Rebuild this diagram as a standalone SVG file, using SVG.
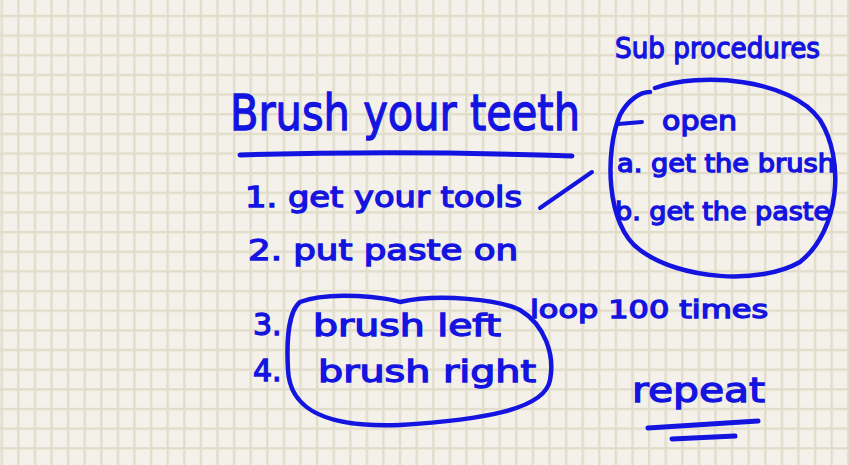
<svg xmlns="http://www.w3.org/2000/svg" width="849" height="465" viewBox="0 0 849 465">
<defs>
<pattern id="grid" patternUnits="userSpaceOnUse" x="0.5" y="14.8" width="16.6" height="19.65">
<rect x="0" y="0" width="16.6" height="19.65" fill="#f4f1ea"/>
<rect x="0" y="0" width="2.4" height="19.65" fill="#e2ddcb"/>
<rect x="0" y="0" width="16.6" height="2.4" fill="#e2ddcb"/>
</pattern>
<style>
.ink{fill:#1414e0;stroke:#1414e0;stroke-width:1.3;font-family:"DejaVu Sans","Liberation Sans",sans-serif}
.pen{fill:none;stroke:#1414e0;stroke-linecap:round;stroke-linejoin:round}
</style>
</defs>
<rect width="849" height="465" fill="url(#grid)"/>
<g id="title">
<text class="ink" x="230" y="130" font-size="50" textLength="350" lengthAdjust="spacingAndGlyphs">Brush your teeth</text>
<path class="pen" stroke-width="5" d="M240,155 Q400,150 572,156"/>
</g>
<g id="step1"><text class="ink" x="245" y="207" font-size="28" textLength="277" lengthAdjust="spacingAndGlyphs">1. get your tools</text></g>
<g id="step2"><text class="ink" x="248" y="260" font-size="28" textLength="270" lengthAdjust="spacingAndGlyphs">2. put paste on</text></g>
<g id="step3">
<text class="ink" x="253" y="335" font-size="30">3.</text>
<text class="ink" x="313" y="336" font-size="30" textLength="188" lengthAdjust="spacingAndGlyphs">brush left</text>
</g>
<g id="step4">
<text class="ink" x="253" y="381" font-size="30">4.</text>
<text class="ink" x="318" y="382" font-size="30" textLength="218" lengthAdjust="spacingAndGlyphs">brush right</text>
</g>
<g id="loop">
<path class="pen" stroke-width="4.5" d="M300,302 C330,290 390,298 400,302 C440,293 500,300 520,310 C545,325 555,355 550,380 C545,410 480,420 400,425 C330,428 290,412 288,370 C286,335 290,310 300,302 Z"/>
<text class="ink" x="530" y="318" font-size="24" textLength="238" lengthAdjust="spacingAndGlyphs">loop 100 times</text>
</g>
<g id="repeat">
<text class="ink" x="632" y="402" font-size="34" textLength="133" lengthAdjust="spacingAndGlyphs">repeat</text>
<path class="pen" stroke-width="5" d="M648,428 L758,421"/>
<path class="pen" stroke-width="5" d="M672,439 L735,436"/>
</g>
<g id="subprocedures">
<text class="ink" x="615" y="58" font-size="28" textLength="205" lengthAdjust="spacingAndGlyphs">Sub procedures</text>
<path class="pen" stroke-width="4.5" d="M655,88 C700,72 790,78 820,120 C845,160 840,230 800,262 C760,285 680,280 640,250 C605,225 605,150 620,115 C628,100 640,92 650,92"/>
<path class="pen" stroke-width="4" d="M618,124 L642,122"/>
<text class="ink" x="662" y="130" font-size="26" textLength="75" lengthAdjust="spacingAndGlyphs">open</text>
<text class="ink" x="617" y="172" font-size="24" textLength="218" lengthAdjust="spacingAndGlyphs">a. get the brush</text>
<text class="ink" x="615" y="220" font-size="24" textLength="215" lengthAdjust="spacingAndGlyphs">b. get the paste</text>
</g>
<g id="connectors">
<path class="pen" stroke-width="4" d="M540,208 L592,172"/>
</g>
</svg>
